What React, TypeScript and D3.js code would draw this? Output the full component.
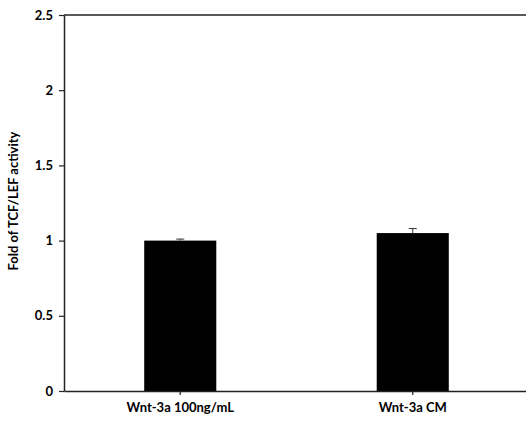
import React, { useEffect, useRef } from "react";
import * as d3 from "d3";

const categories = ["Wnt-3a 100ng/mL", "Wnt-3a CM"];
const means = [1.0, 1.05];
const errors = [0.01, 0.03];
const yTicks = [0, 0.5, 1, 1.5, 2, 2.5];

export default function App() {
  const ref = useRef<SVGSVGElement>(null);

  useEffect(() => {
    const width = 526;
    const height = 426;
    const margin = { top: 15, right: -3, bottom: 35, left: 64 };
    const innerW = width - margin.left - margin.right;
    const innerH = height - margin.top - margin.bottom;

    const svg = d3.select(ref.current);
    svg.selectAll("*").remove();
    const g = svg.append("g").attr("transform", `translate(${margin.left},${margin.top})`);

    const x = d3.scaleBand().domain(categories).range([0, innerW]).padding(0);
    const y = d3.scaleLinear().domain([0, 2.5]).range([innerH, 0]);
    const barW = x.bandwidth() * 0.31;
    const font = "Lato, 'Open Sans', sans-serif";

    // bars
    g.selectAll("rect.bar").data(categories).join("rect").attr("class", "bar")
      .attr("x", d => x(d)! + x.bandwidth() / 2 - barW / 2)
      .attr("y", (d, i) => y(means[i]))
      .attr("width", barW)
      .attr("height", (d, i) => innerH - y(means[i]))
      .attr("fill", "#000");

    // error bars (upper only)
    categories.forEach((c, i) => {
      const cx = x(c)! + x.bandwidth() / 2;
      g.append("line").attr("x1", cx).attr("x2", cx)
        .attr("y1", y(means[i])).attr("y2", y(means[i] + errors[i]))
        .attr("stroke", "#333").attr("stroke-width", 1);
      g.append("line").attr("x1", cx - 4).attr("x2", cx + 4)
        .attr("y1", y(means[i] + errors[i])).attr("y2", y(means[i] + errors[i]))
        .attr("stroke", "#333").attr("stroke-width", 1);
    });

    // top frame line
    g.append("line").attr("x1", 0).attr("x2", innerW).attr("y1", 0).attr("y2", 0)
      .attr("stroke", "#222").attr("stroke-width", 1.5);

    // y axis
    const yAxis = g.append("g").call(d3.axisLeft(y).tickValues(yTicks).tickSize(5).tickSizeOuter(0)
      .tickFormat(d => String(d)));
    yAxis.select(".domain").attr("stroke", "#222").attr("stroke-width", 1.5);
    yAxis.selectAll(".tick line").attr("stroke", "#222").attr("stroke-width", 1.2);
    yAxis.selectAll(".tick text").attr("x", -11).attr("font-family", font)
      .attr("font-size", 13).attr("font-weight", 700).attr("fill", "#000");

    // x axis
    const xAxis = g.append("g").attr("transform", `translate(0,${innerH})`)
      .call(d3.axisBottom(x).tickSize(4).tickSizeOuter(0));
    xAxis.select(".domain").attr("stroke", "#222").attr("stroke-width", 1.5);
    xAxis.selectAll(".tick line").attr("stroke", "#222").attr("stroke-width", 1.2);
    xAxis.selectAll(".tick text").attr("y", 12).attr("font-family", font)
      .attr("font-size", 13).attr("font-weight", 700).attr("fill", "#000");

    // y label
    svg.append("text")
      .attr("transform", `translate(18,201) rotate(-90)`)
      .attr("text-anchor", "middle")
      .attr("font-family", font).attr("font-size", 13).attr("font-weight", 700)
      .text("Fold of TCF/LEF activity");
  }, []);

  return (
    <svg ref={ref} width={526} height={426} style={{ position: "absolute", left: 0, top: 0 }} />
  );
}
